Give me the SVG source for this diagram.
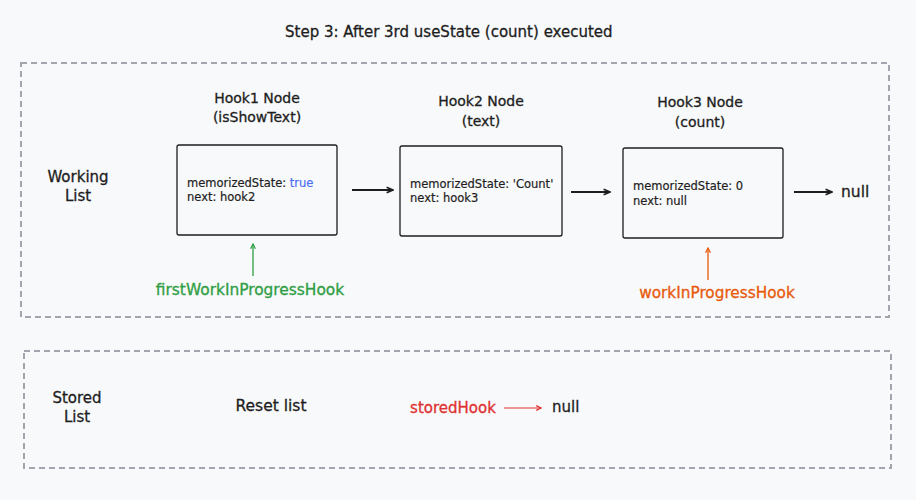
<svg xmlns="http://www.w3.org/2000/svg" width="916" height="500" viewBox="0 0 916 500">
<defs>
<style>
text{font-family:"DejaVu Sans","Liberation Sans",sans-serif;fill:#1e1e1e;stroke:#1e1e1e;stroke-width:0.3}
.title{font-size:15px}
.head{font-size:14px;text-anchor:middle}
.body{font-size:11.5px;stroke-width:0.2}
.lbl{font-size:15px;text-anchor:middle}
.green{fill:#2f9e44;stroke:#2f9e44}
.orange{fill:#e8590c;stroke:#e8590c}
.red{fill:#e03131;stroke:#e03131}
.blue{fill:#4c6ef5;stroke:#4c6ef5}
.frame{fill:none;stroke:#a0a5ae;stroke-width:2;stroke-dasharray:6 4}
.node{fill:#f8f9fa;stroke:#1e1e1e;stroke-width:1.3}
.conn{fill:none;stroke:#1e1e1e;stroke-width:1.8}
</style>
<marker id="ab" viewBox="0 0 10 10" refX="9" refY="5" markerWidth="8" markerHeight="8" orient="auto" markerUnits="userSpaceOnUse"><path d="M1,1.5 L9,5 L1,8.5" fill="none" stroke="#1e1e1e" stroke-width="2"/></marker>
<marker id="ag" viewBox="0 0 10 10" refX="9" refY="5" markerWidth="6" markerHeight="6" orient="auto" markerUnits="userSpaceOnUse"><path d="M1,1 L9,5 L1,9" fill="none" stroke="#2f9e44" stroke-width="2"/></marker>
<marker id="ao" viewBox="0 0 10 10" refX="9" refY="5" markerWidth="6" markerHeight="6" orient="auto" markerUnits="userSpaceOnUse"><path d="M1,1 L9,5 L1,9" fill="none" stroke="#e8590c" stroke-width="2"/></marker>
<marker id="ar" viewBox="0 0 10 10" refX="9" refY="5" markerWidth="6" markerHeight="6" orient="auto" markerUnits="userSpaceOnUse"><path d="M1,1 L9,5 L1,9" fill="none" stroke="#e03131" stroke-width="2"/></marker>
</defs>
<rect width="916" height="500" fill="#f8f9fa"/>
<text class="title" x="285" y="37">Step 3: After 3rd useState (count) executed</text>

<g id="working-frame">
<rect class="frame" x="21" y="63" width="868" height="254"/>
<text class="lbl" x="78" y="182">Working</text>
<text class="lbl" x="78" y="201">List</text>
</g>

<g id="hook1">
<text class="head" x="257" y="103">Hook1 Node</text>
<text class="head" x="257" y="122">(isShowText)</text>
<rect class="node" x="177" y="145" width="160" height="90" rx="2"/>
<text class="body" x="187" y="187">memorizedState: <tspan class="blue">true</tspan></text>
<text class="body" x="187" y="201">next: hook2</text>
</g>

<g id="hook2">
<text class="head" x="481" y="106">Hook2 Node</text>
<text class="head" x="481" y="126">(text)</text>
<rect class="node" x="400" y="146" width="162" height="90" rx="2"/>
<text class="body" x="410" y="188">memorizedState: 'Count'</text>
<text class="body" x="410" y="202">next: hook3</text>
</g>

<g id="hook3">
<text class="head" x="700" y="107">Hook3 Node</text>
<text class="head" x="700" y="127">(count)</text>
<rect class="node" x="623" y="148" width="160" height="90" rx="2"/>
<text class="body" x="633" y="190">memorizedState: 0</text>
<text class="body" x="633" y="205">next: null</text>
</g>

<g id="null1">
<text x="841" y="197" style="font-size:15.5px">null</text>
</g>

<g id="firstWIP">
<text class="lbl green" x="250" y="295" style="font-size:15.4px">firstWorkInProgressHook</text>
</g>

<g id="WIP">
<text class="lbl orange" x="717" y="298" style="font-size:15.3px">workInProgressHook</text>
</g>

<g id="stored-frame">
<rect class="frame" x="24" y="351" width="867" height="117"/>
<text class="lbl" x="77" y="403">Stored</text>
<text class="lbl" x="77" y="422">List</text>
<text class="lbl" x="271" y="411" style="font-size:15.5px">Reset list</text>
</g>

<g id="storedHook">
<text class="lbl red" x="453" y="413">storedHook</text>
</g>
<g id="null2">
<text x="552" y="412" style="font-size:15px">null</text>
</g>

<g id="connectors">
<line class="conn" x1="352" y1="190" x2="393" y2="190" marker-end="url(#ab)"/>
<line class="conn" x1="571" y1="192" x2="610" y2="192" marker-end="url(#ab)"/>
<line class="conn" x1="794" y1="192" x2="832" y2="192" marker-end="url(#ab)"/>
<line x1="253" y1="276" x2="253" y2="244" stroke="#2f9e44" stroke-width="1.3" marker-end="url(#ag)"/>
<line x1="708" y1="280" x2="708" y2="248" stroke="#e8590c" stroke-width="1.3" marker-end="url(#ao)"/>
<line x1="504" y1="408" x2="541" y2="408" stroke="#e03131" stroke-width="1.2" marker-end="url(#ar)"/>
</g>
</svg>
